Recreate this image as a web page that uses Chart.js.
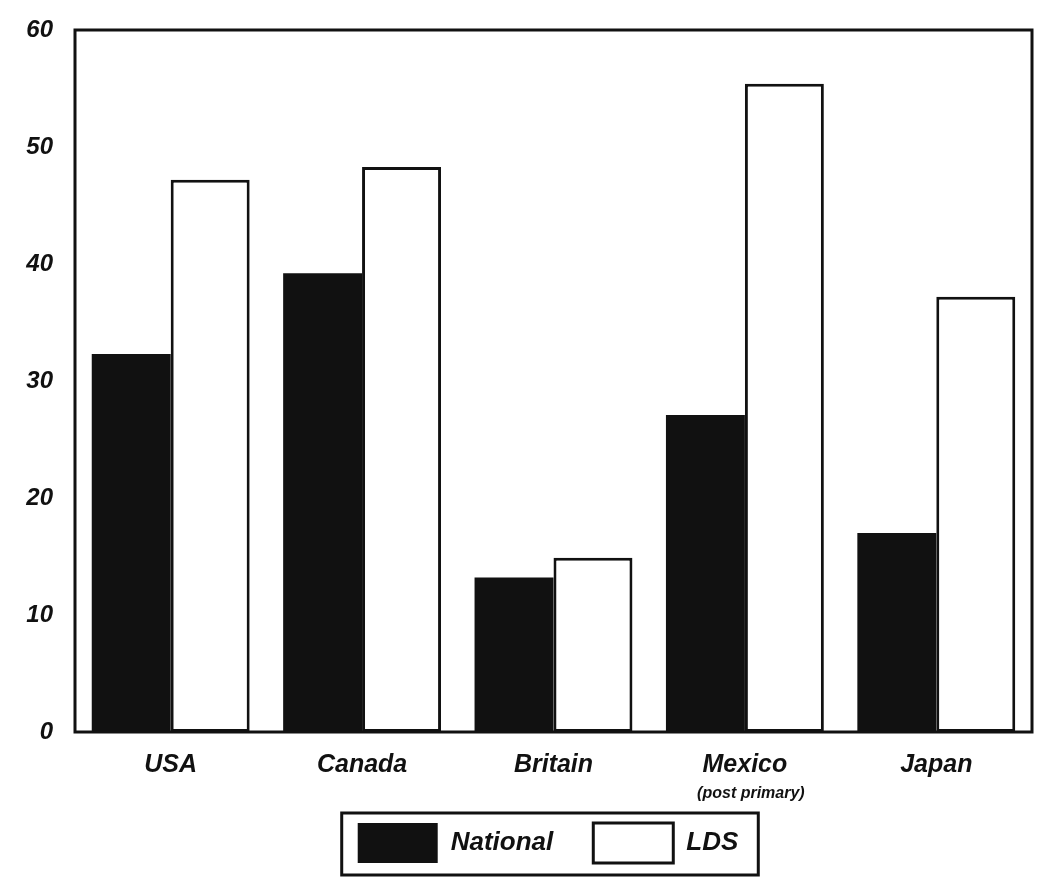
<!DOCTYPE html>
<html>
<head>
<meta charset="utf-8">
<script src="https://cdn.jsdelivr.net/npm/chart.js@4/dist/chart.umd.min.js"></script>
<style>
  html, body { margin: 0; padding: 0; background: #fff; }
  #wrap { width: 1058px; height: 889px; }
</style>
</head>
<body>
<div id="wrap"><canvas id="chart"></canvas></div>
<script>
// data
const countries = ['USA', 'Canada', 'Britain', 'Mexico', 'Japan'];
const countryNotes = ['', '', '', '(post primary)', ''];
const nationalValues = [32.3, 39.2, 13.2, 27.1, 17.0];
const ldsValues = [47.2, 48.3, 14.9, 55.4, 37.2];
const yTicks = [0, 10, 20, 30, 40, 50, 60];

const FONT = '"Liberation Sans", Arial, Helvetica, sans-serif';
const INK = '#111';

// frame round the plot, sub-labels under the ticks, box round the legend
const framePlugin = {
    id: 'frame',
    afterLayout(chart) {
        // legend sits a bit right of the canvas centre, under the plot
        chart.legend.left += 32;
        chart.legend.right += 32;
    },
    afterDraw(chart) {
        const ctx = chart.ctx;
        const a = chart.chartArea;
        ctx.save();
        ctx.strokeStyle = INK;
        ctx.lineWidth = 3;
        ctx.strokeRect(a.left, a.top, a.right - a.left, a.bottom - a.top);

        // second line under a category name
        const xs = chart.scales.x;
        ctx.fillStyle = INK;
        ctx.font = 'italic bold 16px ' + FONT;
        ctx.textAlign = 'center';
        ctx.textBaseline = 'middle';
        countryNotes.forEach((note, i) => {
            if (note) ctx.fillText(note, xs.getPixelForValue(i) + 6, 794);
        });

        // legend box
        const hb = chart.legend.legendHitBoxes;
        if (hb && hb.length) {
            const first = hb[0];
            const last = hb[hb.length - 1];
            const left = first.left - 16;
            const right = last.left + last.width + 20;
            const top = first.top - 10;
            const bottom = first.top + first.height + 12;
            ctx.lineWidth = 3;
            ctx.strokeRect(left, top, right - left, bottom - top);
        }
        ctx.restore();
    }
};

new Chart(document.getElementById('chart'), {
    type: 'bar',
    data: {
        labels: countries,
        datasets: [{
            label: 'National',
            data: nationalValues,
            backgroundColor: INK,
            borderColor: INK,
            borderWidth: 0
        }, {
            label: 'LDS',
            data: ldsValues,
            backgroundColor: '#fff',
            borderColor: INK,
            borderWidth: 3,
            borderSkipped: false
        }]
    },
    options: {
        responsive: true,
        maintainAspectRatio: false,
        animation: false,
        devicePixelRatio: 1,
        layout: { padding: { top: 30, right: 26, left: 0, bottom: 16 } },
        datasets: {
            bar: { categoryPercentage: 0.825, barPercentage: 1.0 }
        },
        plugins: {
            tooltip: { enabled: false },
            legend: {
                position: 'bottom',
                onClick: null,
                labels: {
                    boxWidth: 80,
                    boxHeight: 40,
                    padding: 40,
                    color: INK,
                    font: { family: FONT, size: 26, style: 'italic', weight: 'bold' }
                }
            }
        },
        scales: {
            x: {
                grid: { display: false },
                border: { display: false },
                ticks: {
                    color: INK,
                    padding: 10,
                    font: { family: FONT, size: 25, style: 'italic', weight: 'bold' }
                },
                afterFit(scale) { scale.height = 51; }
            },
            y: {
                min: 0,
                max: 60,
                grid: { display: false },
                border: { display: false },
                afterBuildTicks(scale) {
                    scale.ticks = yTicks.map(v => ({ value: v }));
                },
                ticks: {
                    color: INK,
                    padding: 14,
                    font: { family: FONT, size: 24, style: 'italic', weight: 'bold' }
                },
                afterFit(scale) { scale.width = 75; }
            }
        }
    },
    plugins: [framePlugin]
});
</script>
</body>
</html>
